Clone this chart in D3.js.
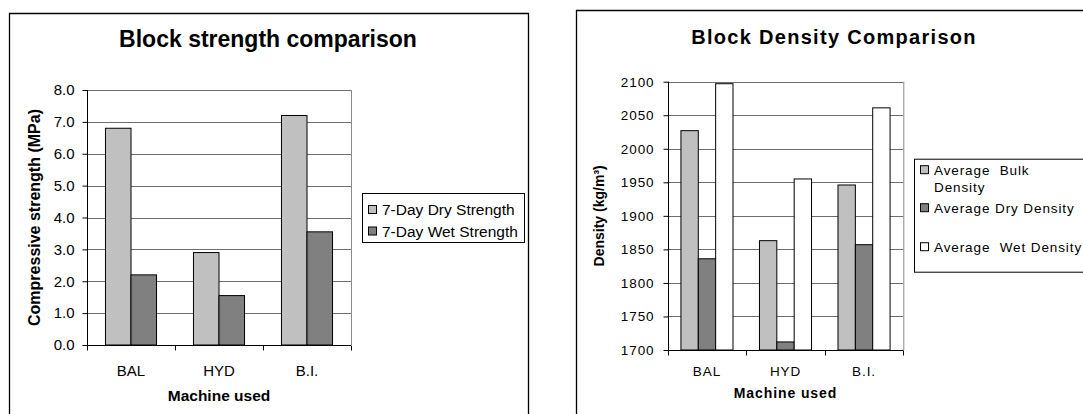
<!DOCTYPE html>
<html lang="en">
<head>
  <meta charset="utf-8">
  <title>Block strength and density comparison</title>
  <style>
    body { margin: 0; background: #fff; font-family: Arial, "Liberation Sans", sans-serif; }
    svg text { fill: #000; }
  </style>
</head>
<body>
  <svg id="chart" width="1083" height="414"></svg>

  <script src="https://d3js.org/d3.v7.min.js"></script>
  <script>
    // data
    const machines = ["BAL", "HYD", "B.I."];

    const strengthSeries = ["7-Day Dry Strength", "7-Day Wet Strength"];
    const dryStrength = [6.8, 2.9, 7.2];
    const wetStrength = [2.2, 1.55, 3.55];
    const strengthTicks = [0, 1, 2, 3, 4, 5, 6, 7, 8];

    const densitySeries = ["Average  Bulk\nDensity", "Average Dry Density", "Average  Wet Density"];
    const bulkDensity = [2027, 1863, 1946];
    const dryDensity = [1836, 1712, 1857];
    const wetDensity = [2097, 1955, 2061];
    const densityTicks = [1700, 1750, 1800, 1850, 1900, 1950, 2000, 2050, 2100];

    const svg = d3.select("#chart");

    function drawChart(cfg) {
      const g = svg.append("g");

      // outer frame (bottom runs off the picture)
      g.append("path")
        .attr("d", `M${cfg.box[0]},420 V${cfg.box[1]} H${cfg.box[2]} V420`)
        .attr("fill", "none")
        .attr("stroke", "#000")
        .attr("stroke-width", 1.3);

      g.append("text")
        .attr("x", cfg.titleX)
        .attr("y", cfg.titleY)
        .attr("text-anchor", "middle")
        .attr("font-weight", "bold")
        .attr("font-size", cfg.titleSize)
        .attr("letter-spacing", cfg.titleSpacing)
        .text(cfg.title);

      const [x0, y0, x1, y1] = cfg.plot;

      const x = d3.scaleBand().domain(machines).range([x0, x1])
        .paddingInner(cfg.pad).paddingOuter(cfg.pad / 2);
      const xs = d3.scaleBand().domain(d3.range(cfg.values.length)).range([0, x.bandwidth()]);
      const y = d3.scaleLinear().domain(cfg.domain).range([y1, y0]);

      // gridlines
      g.append("g")
        .selectAll("line")
        .data(cfg.ticks)
        .join("line")
        .attr("x1", x0).attr("x2", x1)
        .attr("y1", d => Math.round(y(d)) + 0.5)
        .attr("y2", d => Math.round(y(d)) + 0.5)
        .attr("stroke", "#6e6e6e");

      // right edge of plot area
      g.append("line")
        .attr("x1", x1 + 0.5).attr("x2", x1 + 0.5)
        .attr("y1", y0).attr("y2", y1)
        .attr("stroke", "#8a8a8a");

      // bars
      const groups = g.append("g")
        .selectAll("g")
        .data(machines)
        .join("g")
        .attr("transform", d => `translate(${x(d)},0)`);

      groups.selectAll("rect")
        .data((m, i) => cfg.values.map((vals, s) => ({ s, v: vals[i] })))
        .join("rect")
        .attr("x", d => xs(d.s))
        .attr("width", xs.bandwidth())
        .attr("y", d => y(d.v))
        .attr("height", d => y(cfg.domain[0]) - y(d.v))
        .attr("fill", d => cfg.colors[d.s])
        .attr("stroke", "#000")
        .attr("stroke-width", 1);

      // y axis
      const yAxis = g.append("g")
        .attr("transform", `translate(${Math.round(x0) + 0.5},0)`)
        .call(d3.axisLeft(y).tickValues(cfg.ticks).tickFormat(cfg.fmt).tickSize(5).tickPadding(cfg.tickPad));
      yAxis.select(".domain").attr("stroke", "#000").attr("d", `M0,${y0}V${y1}`);
      yAxis.selectAll(".tick line").attr("stroke", "#000");
      yAxis.selectAll(".tick text")
        .attr("font-size", cfg.tickSize)
        .attr("font-family", "Arial, 'Liberation Sans', sans-serif")
        .attr("letter-spacing", cfg.spacing)
        .attr("fill", "#000");

      // x axis: ticks sit between categories
      const xAxis = g.append("g")
        .attr("transform", `translate(0,${Math.round(y1) + 0.5})`);
      xAxis.append("line")
        .attr("x1", x0).attr("x2", x1)
        .attr("stroke", "#000");
      xAxis.selectAll(".sep")
        .data(d3.range(machines.length + 1))
        .join("line")
        .attr("class", "sep")
        .attr("x1", i => Math.round(x0 + i * x.step()) + 0.5)
        .attr("x2", i => Math.round(x0 + i * x.step()) + 0.5)
        .attr("y1", 0).attr("y2", 5)
        .attr("stroke", "#000");
      xAxis.selectAll(".cat")
        .data(machines)
        .join("text")
        .attr("class", "cat")
        .attr("x", d => x(d) + x.bandwidth() / 2)
        .attr("y", cfg.catY - y1)
        .attr("text-anchor", "middle")
        .attr("font-size", cfg.tickSize)
        .attr("letter-spacing", cfg.spacing)
        .text(d => d);

      g.append("text")
        .attr("x", (x0 + x1) / 2)
        .attr("y", cfg.xTitleY)
        .attr("text-anchor", "middle")
        .attr("font-weight", "bold")
        .attr("font-size", cfg.axisTitleSize)
        .attr("letter-spacing", cfg.spacing)
        .text("Machine used");

      g.append("text")
        .attr("transform", `translate(${cfg.yTitleX},${(y0 + y1) / 2}) rotate(-90)`)
        .attr("text-anchor", "middle")
        .attr("font-weight", "bold")
        .attr("font-size", cfg.yTitleSize)
        .text(cfg.yTitle);

      // legend
      const [lx, ly, lw, lh] = cfg.legend;
      g.append("rect")
        .attr("x", lx + 0.5).attr("y", ly + 0.5)
        .attr("width", lw).attr("height", lh)
        .attr("fill", "#fff")
        .attr("stroke", "#000");

      const items = g.append("g")
        .selectAll("g")
        .data(cfg.series)
        .join("g")
        .attr("transform", (d, i) => `translate(${lx + 6},${ly + cfg.rowY[i]})`);

      items.append("rect")
        .attr("x", 0.5).attr("y", -9.5)
        .attr("width", 8).attr("height", 8)
        .attr("fill", (d, i) => cfg.colors[i])
        .attr("stroke", "#000");

      items.append("text")
        .attr("x", 14)
        .attr("font-size", cfg.legendSize)
        .attr("letter-spacing", cfg.spacing)
        .style("white-space", "pre")
        .selectAll("tspan")
        .data(d => d.split("\n"))
        .join("tspan")
        .attr("x", 14)
        .attr("dy", (d, i) => i === 0 ? 0 : 16.5)
        .text(d => d);
    }

    drawChart({
      box: [9.5, 13.5, 528.5],
      title: "Block strength comparison",
      titleX: 268, titleY: 47, titleSize: 23, titleSpacing: 0, spacing: 0,
      plot: [87, 90, 351, 345],
      pad: 0.42,
      domain: [0, 8],
      ticks: strengthTicks,
      fmt: d3.format(".1f"),
      tickPad: 8,
      tickSize: 15,
      values: [dryStrength, wetStrength],
      colors: ["#c0c0c0", "#808080"],
      catY: 375,
      xTitleY: 401,
      axisTitleSize: 15.5,
      yTitle: "Compressive strength (MPa)",
      yTitleX: 40,
      yTitleSize: 16,
      series: strengthSeries,
      legend: [362, 193, 162, 49],
      rowY: [22, 43.5],
      legendSize: 15.5
    });

    drawChart({
      box: [576.5, 10.5, 1100],
      title: "Block Density Comparison",
      titleX: 834, titleY: 44, titleSize: 20, titleSpacing: 1.3, spacing: 0.9,
      plot: [667.7, 81.7, 903.3, 350],
      pad: 0.337,
      domain: [1700, 2100],
      ticks: densityTicks,
      fmt: d3.format("d"),
      tickPad: 9,
      tickSize: 13.5,
      values: [bulkDensity, dryDensity, wetDensity],
      colors: ["#c0c0c0", "#808080", "#ffffff"],
      catY: 375,
      xTitleY: 398,
      axisTitleSize: 14,
      yTitle: "Density (kg/m³)",
      yTitleX: 604,
      yTitleSize: 14,
      series: densitySeries,
      legend: [914, 158.7, 200, 113],
      rowY: [16.5, 54.5, 93.5],
      legendSize: 13.5
    });
  </script>
</body>
</html>
